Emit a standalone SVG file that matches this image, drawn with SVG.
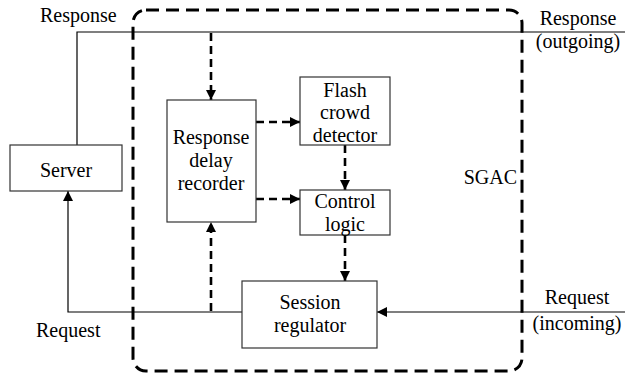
<svg xmlns="http://www.w3.org/2000/svg" width="625" height="374" viewBox="0 0 625 374" font-family="'Liberation Serif', 'Times New Roman', serif">
  <style>
    .box { fill: #fff; stroke: #333; stroke-width: 1.2; }
    .txt { font-size: 20px; fill: #000; }
    .mid { text-anchor: middle; }
    .solid { fill: none; stroke: #000; stroke-width: 1.2; }
    .dash { fill: none; stroke: #000; stroke-width: 2.6; stroke-dasharray: 8 5; }
    .boundary { fill: none; stroke: #000; stroke-width: 3; stroke-dasharray: 13 7; }
  </style>
  <defs>
    <marker id="arrow" viewBox="0 0 10 10" refX="10" refY="5" markerWidth="10" markerHeight="10" markerUnits="userSpaceOnUse" orient="auto">
      <path d="M0,0 L10,5 L0,10 z" fill="#000"/>
    </marker>
  </defs>

  <!-- SGAC boundary -->
  <g id="sgac">
    <rect class="boundary" x="133" y="10" width="389" height="361" rx="13" ry="13"/>
    <text class="txt" x="517" y="184" text-anchor="end" font-family="Liberation Serif">SGAC</text>
  </g>

  <!-- connectors -->
  <g id="connectors">
    <!-- response path -->
    <path class="solid" d="M77,145 V32 H625"/>
    <!-- request path -->
    <path class="solid" d="M625,312 H377" marker-end="url(#arrow)"/>
    <path class="solid" d="M242,312 H68 V191" marker-end="url(#arrow)"/>
    <!-- internal control flow -->
    <path class="dash" d="M211,33 V100" marker-end="url(#arrow)"/>
    <path class="dash" d="M211,311 V222" marker-end="url(#arrow)"/>
    <path class="dash" d="M256,122 H300" marker-end="url(#arrow)"/>
    <path class="dash" d="M256,199 H300" marker-end="url(#arrow)"/>
    <path class="dash" d="M345,145 V190" marker-end="url(#arrow)"/>
    <path class="dash" d="M345,235 V281" marker-end="url(#arrow)"/>
  </g>

  <g id="server" font-family="Liberation Serif">
    <rect class="box" x="10" y="145" width="112" height="46"/>
    <text class="txt mid" x="66" y="177">Server</text>
  </g>

  <g id="delay-recorder" font-family="Liberation Serif">
    <rect class="box" x="167" y="100" width="89" height="122"/>
    <text class="txt mid" x="211" y="144">Response</text>
    <text class="txt mid" x="211" y="167">delay</text>
    <text class="txt mid" x="211" y="190">recorder</text>
  </g>

  <g id="flash-crowd-detector" font-family="Liberation Serif">
    <rect class="box" x="300" y="77" width="90" height="68"/>
    <text class="txt mid" x="345" y="97">Flash</text>
    <text class="txt mid" x="345" y="119">crowd</text>
    <text class="txt mid" x="345" y="142">detector</text>
  </g>

  <g id="control-logic" font-family="Liberation Serif">
    <rect class="box" x="300" y="190" width="90" height="45"/>
    <text class="txt mid" x="345" y="208">Control</text>
    <text class="txt mid" x="345" y="231">logic</text>
  </g>

  <g id="session-regulator" font-family="Liberation Serif">
    <rect class="box" x="242" y="281" width="135" height="67"/>
    <text class="txt mid" x="310" y="309">Session</text>
    <text class="txt mid" x="310" y="332">regulator</text>
  </g>

  <!-- flow labels -->
  <g id="labels" font-family="Liberation Serif">
    <text class="txt" x="40" y="22">Response</text>
    <text class="txt mid" x="578" y="25">Response</text>
    <text class="txt mid" x="578" y="48">(outgoing)</text>
    <text class="txt mid" x="577" y="304">Request</text>
    <text class="txt mid" x="577" y="330">(incoming)</text>
    <text class="txt" x="36" y="337">Request</text>
  </g>
</svg>
